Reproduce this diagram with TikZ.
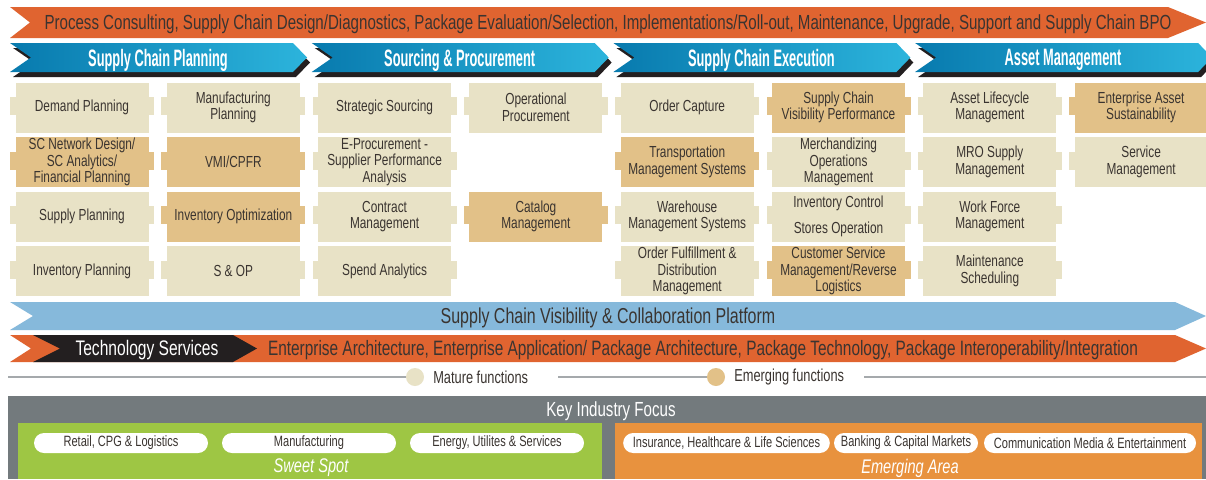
\documentclass[tikz,border=0pt]{standalone}
\usepackage{fontspec}
\setmainfont{Liberation Sans}[FakeStretch=0.74]
\newfontfamily\headfont{Liberation Sans}[FakeStretch=0.54]
\usepackage{xcolor}
\usepackage{tikz}
\usetikzlibrary{positioning,shapes.geometric}
\definecolor{bandorange}{RGB}{224,100,48}
\definecolor{chevdark}{RGB}{8,122,174}
\definecolor{chevlight}{RGB}{44,180,220}
\definecolor{shadowblack}{RGB}{35,31,32}
\definecolor{mature}{RGB}{232,226,198}
\definecolor{emerging}{RGB}{226,193,136}
\definecolor{platformblue}{RGB}{134,185,219}
\definecolor{focusgray}{RGB}{115,122,125}
\definecolor{sweetgreen}{RGB}{158,198,68}
\definecolor{areaorange}{RGB}{232,146,62}
\definecolor{legendgray}{RGB}{165,169,172}
\definecolor{bodytext}{RGB}{58,52,48}
\tikzset{
  bandtxt/.style={text=bodytext, inner sep=0pt, font=\fontsize{15.3}{17}\selectfont},
  headtxt/.style={text=white, inner sep=0pt, font=\headfont\bfseries\fontsize{17.8}{19}\selectfont},
  fnbox/.style={minimum width=99.75pt, minimum height=37.5pt, inner sep=0pt, align=center,
    text=bodytext, font=\fontsize{12}{12.5}\selectfont},
  legdot/.style={circle, minimum size=13.5pt, inner sep=0pt},
  legtxt/.style={text=bodytext, inner sep=0pt, font=\fontsize{13}{15}\selectfont},
  legline/.style={legendgray, line width=1.6pt},
  pill/.style={fill=white, rounded corners=7.5pt, minimum height=15pt, inner sep=0pt,
    text=bodytext, font=\fontsize{11.2}{12}\selectfont},
  areatxt/.style={text=white, inner sep=0pt, font=\itshape\fontsize{14.8}{16}\selectfont}
}
% function box with side tabs: column, row, colour, text
\newcommand\funcbox[4]{%
  \fill[#3] ({82+151.3*(#1-1)-72},{107.5+54.5*(#2-1)-10.5}) rectangle ({82+151.3*(#1-1)+72},{107.5+54.5*(#2-1)+7.5});
  \node[fnbox, fill=#3] (fn-#1-#2) at ({82+151.3*(#1-1)},{107.5+54.5*(#2-1)}) {#4};
}
\begin{document}
\begin{tikzpicture}[x=0.75pt,y=-0.75pt]
\useasboundingbox (0,0) rectangle (1206,479);
\fill[white] (0,0) rectangle (1206,479);

% services band on top
\fill[bandorange] (10,7) -- (1168,7) -- (1206,22.5) -- (1168,38) -- (10,38) -- (30,22.5) -- cycle;
\node[bandtxt] (services) at (608,24) {Process Consulting, Supply Chain Design/Diagnostics, Package Evaluation/Selection, Implementations/Roll-out, Maintenance, Upgrade, Support and Supply Chain BPO};

% the four areas
\foreach \i/\area in {0/{Supply Chain Planning}, 1/{Sourcing \& Procurement},
                      2/{Supply Chain Execution}, 3/{Asset Management}} {
  \pgfmathsetmacro\xa{10+301.7*\i}
  \fill[shadowblack] (\xa+3,48) -- (\xa+286,48) -- (\xa+300,62.5) -- (\xa+286,77) -- (\xa+3,77) -- (\xa+24,62.5) -- cycle;
  \shade[left color=chevdark, right color=chevlight] (\xa,43) -- (\xa+283,43) -- (\xa+297,57.5) -- (\xa+283,72) -- (\xa,72) -- (\xa+21,57.5) -- cycle;
  \node[headtxt] (area\i) at (\xa+148,60) {\area};
}

% functions
\funcbox{1}{1}{mature}{Demand Planning}
\funcbox{1}{2}{emerging}{SC Network Design/\\SC Analytics/\\Financial Planning}
\funcbox{1}{3}{mature}{Supply Planning}
\funcbox{1}{4}{mature}{Inventory Planning}
\funcbox{2}{1}{mature}{Manufacturing\\Planning}
\funcbox{2}{2}{emerging}{VMI/CPFR}
\funcbox{2}{3}{emerging}{Inventory Optimization}
\funcbox{2}{4}{mature}{S \& OP}
\funcbox{3}{1}{mature}{Strategic Sourcing}
\funcbox{3}{2}{mature}{E-Procurement -\\Supplier Performance\\Analysis}
\funcbox{3}{3}{mature}{Contract\\Management}
\funcbox{3}{4}{mature}{Spend Analytics}
\funcbox{4}{1}{mature}{Operational\\Procurement}
\funcbox{4}{3}{emerging}{Catalog\\Management}
\funcbox{5}{1}{mature}{Order Capture}
\funcbox{5}{2}{emerging}{Transportation\\Management Systems}
\funcbox{5}{3}{mature}{Warehouse\\Management Systems}
\funcbox{5}{4}{mature}{Order Fulfillment \&\\Distribution\\Management}
\funcbox{6}{1}{emerging}{Supply Chain\\Visibility Performance}
\funcbox{6}{2}{mature}{Merchandizing\\Operations\\Management}
\funcbox{6}{3}{mature}{Inventory Control\\[7pt]Stores Operation}
\funcbox{6}{4}{emerging}{Customer Service\\Management/Reverse\\Logistics}
\funcbox{7}{1}{mature}{Asset Lifecycle\\Management}
\funcbox{7}{2}{mature}{MRO Supply\\Management}
\funcbox{7}{3}{mature}{Work Force\\Management}
\funcbox{7}{4}{mature}{Maintenance\\Scheduling}
\funcbox{8}{1}{emerging}{Enterprise Asset\\Sustainability}
\funcbox{8}{2}{mature}{Service\\Management}

% platform and technology bands
\fill[platformblue] (10,302) -- (1175,302) -- (1206,316) -- (1175,330) -- (10,330) -- (33,316) -- cycle;
\node[bandtxt, font=\fontsize{16.2}{18}\selectfont] (platform) at (608,317.5) {Supply Chain Visibility \& Collaboration Platform};
\fill[bandorange] (10,335) -- (1175,335) -- (1206,348.5) -- (1175,362) -- (10,362) -- (31,348.5) -- cycle;
\fill[shadowblack] (33,335) -- (233,335) -- (257,348.5) -- (233,362) -- (33,362) -- (60,348.5) -- cycle;
\node[bandtxt, text=white, font=\fontsize{15.8}{17}\selectfont] (tech) at (147,350) {Technology Services};
\node[bandtxt, font=\fontsize{15.6}{17}\selectfont] (techlist) at (703,350) {Enterprise Architecture, Enterprise Application/ Package Architecture, Package Technology, Package Interoperability/Integration};

% legend
\coordinate (legA) at (8,377);
\coordinate (legB) at (558,377);
\coordinate (legC) at (864,377);
\coordinate (legD) at (1206,377);
\node[legdot, fill=mature] (matdot) at (415,377) {};
\node[legtxt, anchor=west] (matlbl) at (433,377.5) {Mature functions};
\node[legdot, fill=emerging] (emgdot) at (716,377) {};
\node[legtxt, anchor=west] (emglbl) at (734,377.5) {Emerging functions};
\draw[legline] (legA) -- (matdot.west);
\draw[legline] (legB) -- (emgdot.west);
\draw[legline] (legC) -- (legD);

% key industry focus
\fill[focusgray] (8,396) rectangle (1206,479);
\node[text=white, inner sep=0pt, font=\fontsize{15.3}{17}\selectfont] (focus) at (611,411.5) {Key Industry Focus};
\fill[sweetgreen] (17.5,423) rectangle (602,479);
\fill[areaorange] (615,423) rectangle (1202,479);
\node[pill, minimum width=130.5pt] (retail) at (121,443) {Retail, CPG \& Logistics};
\node[pill, minimum width=130.5pt] (manuf) at (309,443) {Manufacturing};
\node[pill, minimum width=130.5pt] (energy) at (497,443) {Energy, Utilites \& Services};
\node[pill, minimum width=155pt] (insur) at (726.5,443) {Insurance, Healthcare \& Life Sciences};
\node[pill, minimum width=108pt] (bank) at (906,443) {Banking \& Capital Markets};
\node[pill, minimum width=159pt] (comm) at (1090,443) {Communication Media \& Entertainment};
\node[areatxt] (sweet) at (311,468) {Sweet Spot};
\node[areatxt] (emgarea) at (910,468) {Emerging Area};
\end{tikzpicture}
\end{document}
